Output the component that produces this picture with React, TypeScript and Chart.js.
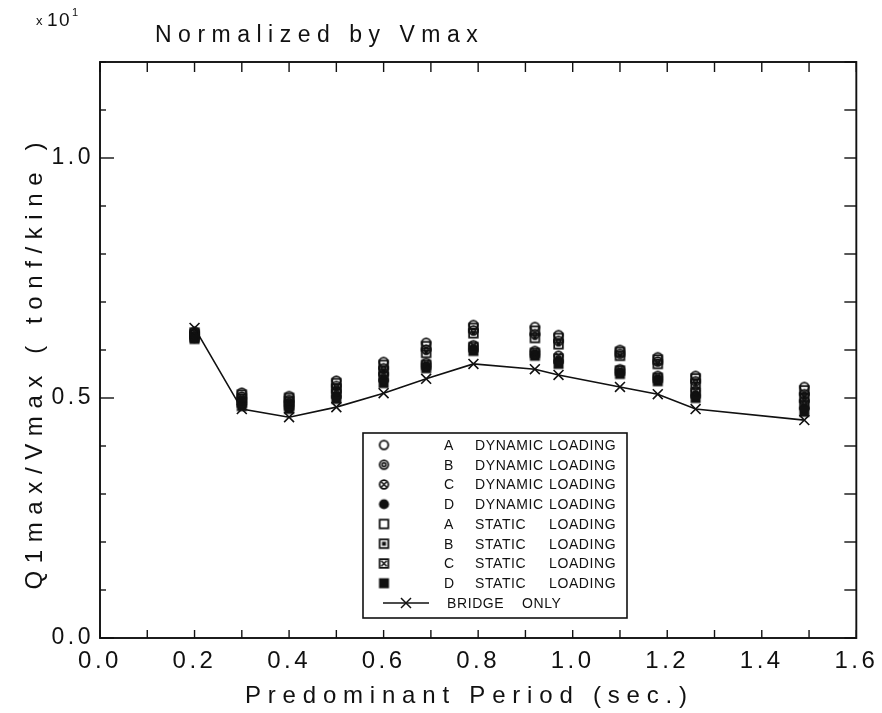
import React, { useEffect, useRef } from 'react';
import { Chart, registerables } from 'chart.js';

Chart.register(...registerables);

// ---------- data (values in units of x10^1, as plotted) ----------
const periods = [0.2, 0.3, 0.4, 0.5, 0.6, 0.69, 0.79, 0.92, 0.97, 1.1, 1.18, 1.26, 1.49];

const bridgeOnly = [0.646, 0.477, 0.46, 0.481, 0.51, 0.54, 0.571, 0.56, 0.548, 0.523, 0.508, 0.477, 0.454];

const aDynamic = [0.638, 0.511, 0.504, 0.536, 0.575, 0.615, 0.652, 0.648, 0.631, 0.6, 0.585, 0.546, 0.523];
const bDynamic = [0.634, 0.503, 0.496, 0.525, 0.562, 0.601, 0.641, 0.633, 0.619, 0.592, 0.576, 0.535, 0.508];
const cDynamic = [0.629, 0.495, 0.489, 0.514, 0.55, 0.573, 0.61, 0.598, 0.588, 0.56, 0.546, 0.515, 0.494];
const dDynamic = [0.625, 0.487, 0.481, 0.503, 0.537, 0.566, 0.602, 0.591, 0.577, 0.553, 0.539, 0.505, 0.479];
const aStatic = [0.636, 0.507, 0.5, 0.531, 0.569, 0.608, 0.646, 0.64, 0.625, 0.596, 0.58, 0.541, 0.516];
const bStatic = [0.632, 0.499, 0.493, 0.52, 0.556, 0.594, 0.635, 0.625, 0.612, 0.588, 0.571, 0.53, 0.501];
const cStatic = [0.627, 0.491, 0.485, 0.509, 0.544, 0.569, 0.606, 0.594, 0.582, 0.557, 0.542, 0.51, 0.486];
const dStatic = [0.623, 0.483, 0.477, 0.498, 0.531, 0.562, 0.598, 0.588, 0.571, 0.55, 0.535, 0.5, 0.471];

const seriesLabels = [
  'A DYNAMIC LOADING',
  'B DYNAMIC LOADING',
  'C DYNAMIC LOADING',
  'D DYNAMIC LOADING',
  'A STATIC LOADING',
  'B STATIC LOADING',
  'C STATIC LOADING',
  'D STATIC LOADING',
];
const seriesSymbols = [
  'circleOpen',
  'circleRing',
  'circleCross',
  'circleFill',
  'squareOpen',
  'squareDot',
  'squareCross',
  'squareFill',
];
const seriesValues = [aDynamic, bDynamic, cDynamic, dDynamic, aStatic, bStatic, cStatic, dStatic];
const bridgeLabel = 'BRIDGE ONLY';

const xMin = 0;
const xMax = 1.6;
const xMinorStep = 0.1;
const xLabelEvery = 2; // label every 0.2
const yMin = 0;
const yMax = 1.2;
const yMinorStep = 0.1;
const yLabelEvery = 5; // label every 0.5

const chartTitle = 'Normalized by Vmax';
const multiplierX = 'x';
const multiplierBase = '10';
const multiplierExp = '1';
const xAxisTitle = 'Predominant Period (sec.)';
const yAxisTitle = 'Q1max/Vmax ( tonf/kine )';

// ---------- styling ----------
const FONT = '"Liberation Sans", Arial, sans-serif';
const INK = '#111111';

function makeSymbol(kind: string): HTMLCanvasElement {
  const c = document.createElement('canvas');
  c.width = 13;
  c.height = 13;
  const g = c.getContext('2d')!;
  g.strokeStyle = INK;
  g.fillStyle = INK;
  g.lineWidth = 1.8;
  const cx = 6.5;
  const cy = 6.5;
  const r = 4.3;
  const circle = () => {
    g.beginPath();
    g.arc(cx, cy, r, 0, Math.PI * 2);
    g.stroke();
  };
  const cross = (d: number) => {
    g.beginPath();
    g.moveTo(cx - d, cy - d);
    g.lineTo(cx + d, cy + d);
    g.moveTo(cx + d, cy - d);
    g.lineTo(cx - d, cy + d);
    g.stroke();
  };
  switch (kind) {
    case 'circleOpen':
      circle();
      break;
    case 'circleRing':
      circle();
      g.beginPath();
      g.arc(cx, cy, 1.9, 0, Math.PI * 2);
      g.lineWidth = 1.6;
      g.stroke();
      break;
    case 'circleCross':
      circle();
      g.lineWidth = 1.5;
      cross(2.7);
      break;
    case 'circleFill':
      g.beginPath();
      g.arc(cx, cy, 5.1, 0, Math.PI * 2);
      g.fill();
      break;
    case 'squareOpen':
      g.strokeRect(2.2, 2.2, 8.6, 8.6);
      break;
    case 'squareDot':
      g.strokeRect(2.2, 2.2, 8.6, 8.6);
      g.fillRect(4.5, 4.5, 4, 4);
      break;
    case 'squareCross':
      g.strokeRect(2.2, 2.2, 8.6, 8.6);
      g.lineWidth = 1.5;
      cross(2.7);
      break;
    case 'squareFill':
      g.fillRect(1.5, 1.5, 10, 10);
      break;
  }
  return c;
}

function drawSpaced(
  ctx: CanvasRenderingContext2D,
  text: string,
  x: number,
  y: number,
  size: number,
  spacing: number,
  align: 'left' | 'center' | 'right'
) {
  ctx.font = `${size}px ${FONT}`;
  ctx.letterSpacing = '0px';
  const w0 = ctx.measureText(text).width;
  const w = w0 + spacing * (text.length - 1);
  let sx = x;
  if (align === 'center') sx = x - w / 2;
  else if (align === 'right') sx = x - w;
  ctx.letterSpacing = `${spacing}px`;
  ctx.textAlign = 'left';
  ctx.fillText(text, sx, y);
}

const tickSpacingPlugin = {
  id: 'tickSpacing',
  beforeDraw(chart: any) {
    chart.ctx.letterSpacing = '3.5px';
  },
  afterDraw(chart: any) {
    chart.ctx.letterSpacing = '0px';
  },
};

const decorPlugin = {
  id: 'decor',
  afterDraw(chart: any) {
    const ctx: CanvasRenderingContext2D = chart.ctx;
    const { left, right, top, bottom } = chart.chartArea;
    const xs = chart.scales.x;
    const ys = chart.scales.y;
    ctx.save();
    ctx.letterSpacing = '0px';
    ctx.strokeStyle = INK;
    ctx.fillStyle = INK;

    // frame
    ctx.lineWidth = 1.9;
    ctx.strokeRect(left, top, right - left, bottom - top);

    // inward ticks on all sides
    ctx.lineWidth = 1.4;
    const line = (x1: number, y1: number, x2: number, y2: number) => {
      ctx.beginPath();
      ctx.moveTo(x1, y1);
      ctx.lineTo(x2, y2);
      ctx.stroke();
    };
    xs.ticks.forEach((t: any) => {
      const px = xs.getPixelForValue(t.value);
      line(px, bottom, px, bottom - 8);
      line(px, top, px, top + 10);
    });
    ys.ticks.forEach((t: any) => {
      const py = ys.getPixelForValue(t.value);
      const k = Math.round(t.value / yMinorStep);
      const major = k % yLabelEvery === 0;
      line(left, py, left + (major ? 14 : 6), py);
      line(right, py, right - 12, py);
    });

    // titles
    ctx.textBaseline = 'alphabetic';
    drawSpaced(ctx, multiplierX, 36, 25, 13, 0, 'left');
    drawSpaced(ctx, multiplierBase, 47, 26, 19, 1.5, 'left');
    drawSpaced(ctx, multiplierExp, 72, 16, 11, 0, 'left');
    drawSpaced(ctx, chartTitle, 155, 42, 23, 6.5, 'left');
    drawSpaced(ctx, xAxisTitle, 466, 703, 24, 6.8, 'center');
    ctx.save();
    ctx.translate(42, 366);
    ctx.rotate(-Math.PI / 2);
    drawSpaced(ctx, yAxisTitle, 0, 0, 24, 7.6, 'center');
    ctx.restore();

    // legend box
    const bx = 363;
    const by = 433;
    const bw = 264;
    const bh = 185;
    ctx.fillStyle = '#ffffff';
    ctx.fillRect(bx, by, bw, bh);
    ctx.fillStyle = INK;
    ctx.lineWidth = 1.6;
    ctx.strokeRect(bx, by, bw, bh);
    const rowY0 = 445;
    const rowH = 19.75;
    const cols = [444, 475, 549];
    ctx.textBaseline = 'middle';
    const datasets = chart.data.datasets;
    let row = 0;
    datasets.forEach((ds: any) => {
      if (ds.isBridge) return;
      const ry = rowY0 + row * rowH;
      const img = ds.pointStyle as HTMLCanvasElement;
      ctx.drawImage(img, 384 - img.width / 2, ry - img.height / 2);
      const parts = String(ds.label).split(' ');
      parts.forEach((p: string, i: number) => drawSpaced(ctx, p, cols[i], ry + 1, 14, 0.6, 'left'));
      row++;
    });
    const bridge = datasets.find((d: any) => d.isBridge);
    if (bridge) {
      const ry = rowY0 + 8 * rowH;
      ctx.lineWidth = 1.5;
      line(383, ry, 429, ry);
      const d = 5;
      line(406 - d, ry - d, 406 + d, ry + d);
      line(406 + d, ry - d, 406 - d, ry + d);
      const parts = String(bridge.label).split(' ');
      drawSpaced(ctx, parts[0], 447, ry + 1, 14, 0.6, 'left');
      drawSpaced(ctx, parts[1], 522, ry + 1, 14, 0.6, 'left');
    }
    ctx.restore();
  },
};

export default function App() {
  const canvasRef = useRef<HTMLCanvasElement | null>(null);

  useEffect(() => {
    const canvas = canvasRef.current;
    if (!canvas) return;

    const scatterSets = seriesValues.map((vals, i) => ({
      type: 'scatter' as const,
      label: seriesLabels[i],
      data: periods.map((p, j) => ({ x: p, y: vals[j] })),
      pointStyle: makeSymbol(seriesSymbols[i]),
      pointRadius: 5,
      showLine: false,
      order: 1,
    }));

    const bridgeSet: any = {
      type: 'line' as const,
      label: bridgeLabel,
      isBridge: true,
      data: periods.map((p, j) => ({ x: p, y: bridgeOnly[j] })),
      borderColor: INK,
      borderWidth: 1.6,
      pointStyle: 'crossRot',
      pointRadius: 7,
      pointBorderWidth: 1.6,
      pointBorderColor: INK,
      pointBackgroundColor: INK,
      tension: 0,
      fill: false,
      order: 2,
    };

    const chart = new Chart(canvas, {
      type: 'scatter',
      data: { datasets: [...scatterSets, bridgeSet] as any },
      options: {
        animation: false,
        responsive: false,
        maintainAspectRatio: false,
        events: [],
        layout: { padding: { top: 62, right: 24, left: 0, bottom: 0 } },
        plugins: {
          legend: { display: false },
          title: { display: false },
          tooltip: { enabled: false },
        },
        scales: {
          x: {
            type: 'linear',
            min: xMin,
            max: xMax,
            grid: { display: false, drawTicks: false },
            border: { display: false },
            ticks: {
              stepSize: xMinorStep,
              autoSkip: false,
              maxRotation: 0,
              padding: 9,
              color: INK,
              font: { family: FONT, size: 24 },
              callback: (v: any) => {
                const k = Math.round(Number(v) / xMinorStep);
                return k % xLabelEvery === 0 ? (k * xMinorStep).toFixed(1) : '';
              },
            },
            afterFit: (s: any) => {
              s.height = 75;
            },
          },
          y: {
            type: 'linear',
            min: yMin,
            max: yMax,
            grid: { display: false, drawTicks: false },
            border: { display: false },
            ticks: {
              stepSize: yMinorStep,
              autoSkip: false,
              padding: 6,
              color: INK,
              font: { family: FONT, size: 23 },
              callback: (v: any) => {
                const k = Math.round(Number(v) / yMinorStep);
                return k % yLabelEvery === 0 ? (k * yMinorStep).toFixed(1) : '';
              },
            },
            afterFit: (s: any) => {
              s.width = 100;
            },
          },
        },
      } as any,
      plugins: [tickSpacingPlugin, decorPlugin],
    });

    return () => {
      chart.destroy();
    };
  }, []);

  return (
    <div style={{ position: 'absolute', left: 0, top: 0, width: 882, height: 713, background: '#fff' }}>
      <canvas ref={canvasRef} width={882} height={713} style={{ width: 882, height: 713, display: 'block' }} />
    </div>
  );
}
